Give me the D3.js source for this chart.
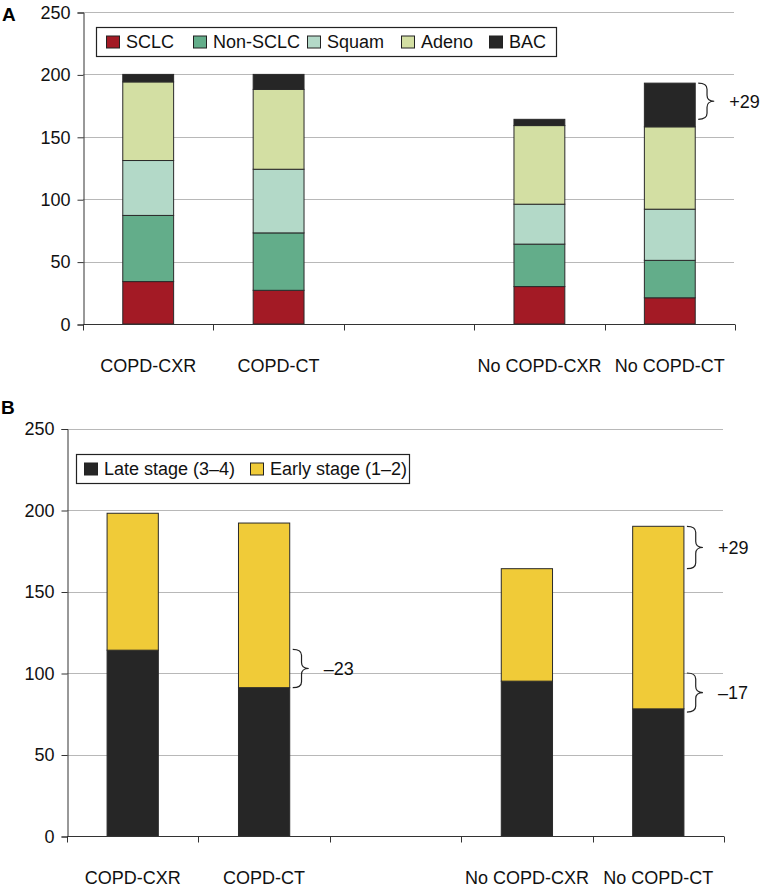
<!DOCTYPE html>
<html>
<head>
<meta charset="utf-8">
<script src="https://cdn.jsdelivr.net/npm/d3@7"></script>
<style>
  html, body { margin: 0; padding: 0; background: #fff; }
  svg { display: block; font-family: "Liberation Sans", Arial, Helvetica, sans-serif; }
</style>
</head>
<body>
<svg id="chart" width="762" height="886"></svg>
<script>
// ---------- DATA ----------
const categories = ["COPD-CXR", "COPD-CT", "", "No COPD-CXR", "No COPD-CT"];
const barCategories = ["COPD-CXR", "COPD-CT", "No COPD-CXR", "No COPD-CT"];
const yTicks = [0, 50, 100, 150, 200, 250];

// Panel A: histology
const histKeys = ["SCLC", "Non-SCLC", "Squam", "Adeno", "BAC"];
const sclc    = [34, 27, 30, 21];
const nonSclc = [53, 46, 34, 30];
const squam   = [44, 51, 32, 41];
const adeno   = [63, 64, 63, 66];
const bac     = [6, 12, 5, 35];
const histColors = ["#a31a25", "#63ad8a", "#b3d9c8", "#d3dfa3", "#262626"];

// Panel B: stage
const stageKeys = ["Late stage (3\u20134)", "Early stage (1\u20132)"];
const lateStage  = [114, 91, 95, 78];
const earlyStage = [84, 101, 69, 112];
const stageColors = ["#262626", "#f0cb38"];

// Annotations (brace extents in data units)
const annotA = [{ cat: "No COPD-CT", from: 164, to: 193, label: "+29" }];
const annotB = [
  { cat: "COPD-CT", from: 91, to: 114.5, label: "\u201323" },
  { cat: "No COPD-CT", from: 164, to: 190, label: "+29" },
  { cat: "No COPD-CT", from: 76, to: 100, label: "\u201317" }
];

// ---------- DRAW ----------
const svg = d3.select("#chart");

function bracePath(x0, y1, y2, w) {
  const xm = x0 + w * 0.55;
  const ym = (y1 + y2) / 2;
  const r = Math.min(6, (y2 - y1) / 4);
  return `M${x0},${y1} Q${xm},${y1} ${xm},${y1 + r} L${xm},${ym - r} Q${xm},${ym} ${x0 + w},${ym}` +
         ` Q${xm},${ym} ${xm},${ym + r} L${xm},${y2 - r} Q${xm},${y2} ${x0},${y2}`;
}

function panel(cfg) {
  const g = svg.append("g");
  const x = d3.scaleBand().domain(categories).range([cfg.x0, cfg.x1]).paddingInner(0).paddingOuter(0);
  const y = d3.scaleLinear().domain([0, 250]).range([cfg.yBottom, cfg.yTop]);
  const bw = x.bandwidth() * 0.39;

  // gridlines
  g.append("g").selectAll("line").data(yTicks.filter(d => d > 0)).join("line")
    .attr("x1", cfg.x0).attr("x2", cfg.x1 - 1)
    .attr("y1", d => Math.round(y(d)) + 0.5).attr("y2", d => Math.round(y(d)) + 0.5)
    .attr("stroke", "#b8b8b8").attr("stroke-width", 1);

  // y axis
  const yAxis = d3.axisLeft(y).tickValues(yTicks).tickSize(6).tickPadding(7);
  const ya = g.append("g").attr("transform", `translate(${cfg.x0 + 0.5},0.5)`).call(yAxis);
  ya.selectAll("text").attr("font-size", 18).attr("fill", "#111").attr("font-family", "'Liberation Sans', Arial, sans-serif");
  ya.selectAll("line, path").attr("stroke", "#333");

  // stacked bars
  const rows = barCategories.map((c, i) => {
    const o = { cat: c };
    cfg.keys.forEach((k, j) => { o[k] = cfg.series[j][i]; });
    return o;
  });
  const stacked = d3.stack().keys(cfg.keys)(rows);
  g.append("g").selectAll("g").data(stacked).join("g")
    .attr("fill", (d, i) => cfg.colors[i])
    .selectAll("rect").data(d => d).join("rect")
    .attr("x", d => x(d.data.cat) + (x.bandwidth() - bw) / 2)
    .attr("y", d => y(d[1]))
    .attr("width", bw)
    .attr("height", d => y(d[0]) - y(d[1]))
    .attr("stroke", "#2a2a2a").attr("stroke-width", 1);

  // x axis
  const xa = g.append("g").attr("transform", `translate(0,${cfg.yBottom + 0.5})`);
  xa.append("line").attr("x1", cfg.x0).attr("x2", cfg.x1).attr("stroke", "#333");
  const bounds = categories.map(c => x(c)).concat([cfg.x1]);
  xa.selectAll("line.tk").data(bounds).join("line").attr("class", "tk")
    .attr("x1", d => Math.round(d) + 0.5).attr("x2", d => Math.round(d) + 0.5)
    .attr("y1", 0).attr("y2", 6).attr("stroke", "#333");
  xa.selectAll("text").data(categories.filter(c => c !== "")).join("text")
    .attr("x", d => x(d) + x.bandwidth() / 2)
    .attr("y", cfg.labelY - cfg.yBottom)
    .attr("text-anchor", "middle").attr("font-size", 18).attr("fill", "#111")
    .text(d => d);

  // legend
  const lg = g.append("g");
  lg.append("rect").attr("x", cfg.legend.x + 0.5).attr("y", cfg.legend.y + 0.5)
    .attr("width", cfg.legend.w).attr("height", cfg.legend.h)
    .attr("fill", "#fff").attr("stroke", "#222").attr("stroke-width", 1.2);
  cfg.keys.forEach((k, i) => {
    const sx = cfg.legend.items[i];
    lg.append("rect").attr("x", sx + 0.5).attr("y", cfg.legend.y + cfg.legend.h / 2 - 6 + 0.5)
      .attr("width", 13).attr("height", 12).attr("fill", cfg.colors[i])
      .attr("stroke", "#222").attr("stroke-width", 1);
    lg.append("text").attr("x", sx + 20).attr("y", cfg.legend.y + cfg.legend.h / 2 + 6.5)
      .attr("font-size", 18).attr("fill", "#111").text(k);
  });

  // braces
  cfg.annot.forEach(a => {
    const bx = x(a.cat) + (x.bandwidth() + bw) / 2 + 3;
    const y1 = y(a.to), y2 = y(a.from);
    g.append("path").attr("d", bracePath(bx, y1, y2, 16))
      .attr("fill", "none").attr("stroke", "#222").attr("stroke-width", 1.2);
    g.append("text").attr("x", bx + 31).attr("y", (y1 + y2) / 2 + 6.5)
      .attr("font-size", 18).attr("fill", "#111").text(a.label);
  });

  // panel letter
  g.append("text").attr("x", cfg.letterX).attr("y", cfg.letterY)
    .attr("font-size", 19).attr("font-weight", "bold").attr("fill", "#000").text(cfg.letter);
}

panel({
  letter: "A", letterX: 2, letterY: 21,
  x0: 83, x1: 735, yTop: 12, yBottom: 324, labelY: 371,
  keys: histKeys, series: [sclc, nonSclc, squam, adeno, bac], colors: histColors,
  legend: { x: 96, y: 27, w: 460, h: 29, items: [106, 193, 307, 401, 489] },
  annot: annotA
});

panel({
  letter: "B", letterX: 1, letterY: 414,
  x0: 67, x1: 724, yTop: 428.5, yBottom: 836, labelY: 883,
  keys: stageKeys, series: [lateStage, earlyStage], colors: stageColors,
  legend: { x: 76, y: 454, w: 333, h: 29, items: [84, 250] },
  annot: annotB
});
</script>
</body>
</html>
